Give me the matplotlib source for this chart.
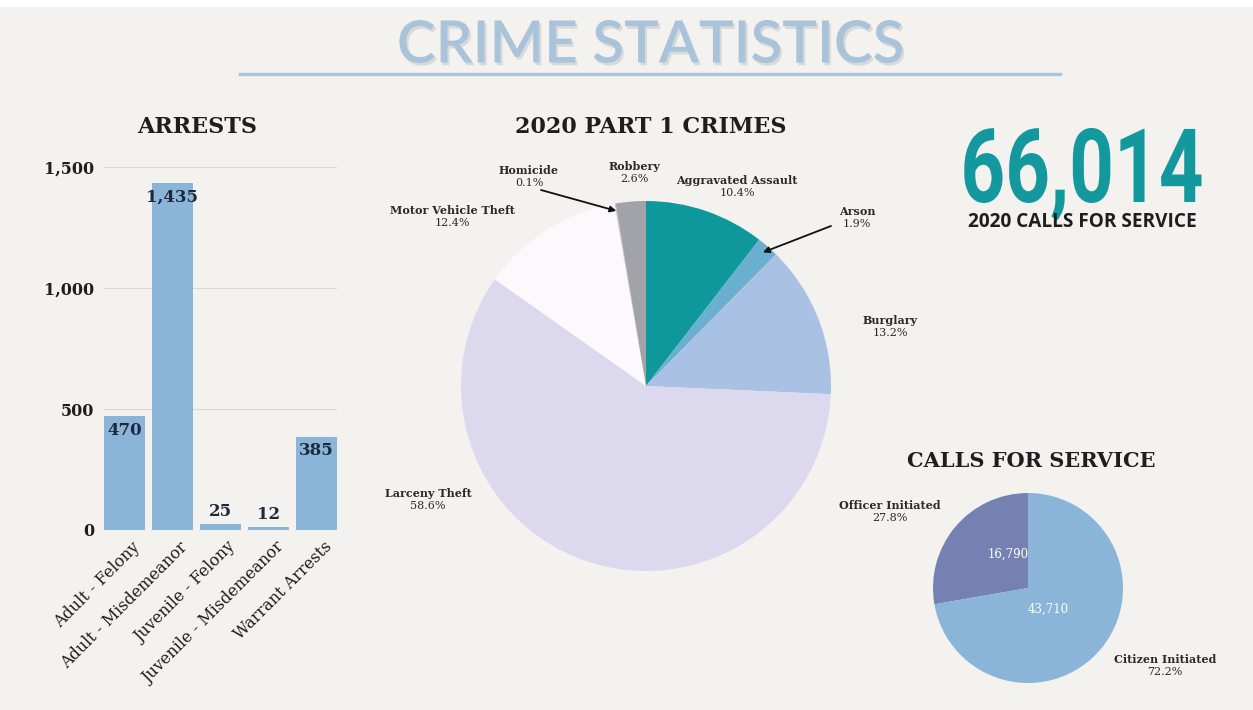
import matplotlib
matplotlib.use('Agg')
import matplotlib.pyplot as plt
import matplotlib.patheffects as pe
from matplotlib.patches import Rectangle
from matplotlib.transforms import Affine2D
import numpy as np

# ---------------- data ----------------
arrest_cats = ['Adult - Felony', 'Adult - Misdemeanor', 'Juvenile - Felony',
               'Juvenile - Misdemeanor', 'Warrant Arrests']
arrest_vals = [470, 1435, 25, 12, 385]
arrest_ticks = [0, 500, 1000, 1500]

crime_labels = ['Aggravated Assault', 'Arson', 'Burglary', 'Larceny Theft',
                'Motor Vehicle Theft', 'Homicide', 'Robbery']
crime_pcts = [10.4, 1.9, 13.2, 58.6, 12.4, 0.1, 2.6]

call_labels = ['Officer Initiated', 'Citizen Initiated']
call_vals = [16790, 43710]

total_calls = 66014

# ---------------- style ----------------
W, H = 1253, 710
BG = '#f4f2ef'
SERIF = ['DejaVu Serif']
crime_colors = ['#0f989c', '#6aafd0', '#a9c1e3', '#dcd9ef', '#fcf8fc', '#c9c9d6', '#a2a3a9']
call_colors = ['#7581b3', '#8ab4d8']
DARK = '#1e1e1e'

fig = plt.figure(figsize=(W / 100, H / 100), dpi=100)
fig.patch.set_facecolor(BG)
fig.add_artist(Rectangle((0, 1 - 6 / H), 1, 6 / H, transform=fig.transFigure,
                         color='white', zorder=0))


def px_axes(x0, y0, x1, y1):
    return fig.add_axes([x0 / W, 1 - y1 / H, (x1 - x0) / W, (y1 - y0) / H])


def fx(px):
    return px / W


def fy(py):
    return 1 - py / H


class HScale(pe.AbstractPathEffect):
    """Horizontally condense text around a pixel x position."""

    def __init__(self, sx, cx):
        super().__init__()
        self.sx, self.cx = sx, cx

    def draw_path(self, renderer, gc, tpath, affine, rgbFace=None):
        a = affine + Affine2D().translate(-self.cx, 0).scale(self.sx, 1).translate(self.cx, 0)
        renderer.draw_path(gc, tpath, a, rgbFace)


# ---------------- title ----------------
fig.text(fx(651), fy(46), 'CRIME STATISTICS', ha='center', va='center',
         fontsize=42, family=['Lato', 'DejaVu Sans'], fontweight='semibold', color='#a8c3da',
         path_effects=[pe.withSimplePatchShadow(offset=(1.5, -2), shadow_rgbFace='#9aa0a8', alpha=0.3)])
fig.add_artist(plt.Line2D([fx(240), fx(1060)], [fy(74), fy(74)], transform=fig.transFigure,
                          color='#a9c4db', lw=2.4))

# ---------------- arrests bar chart ----------------
ax = px_axes(104, 167, 337, 530)
ax.set_facecolor('none')
x = np.arange(len(arrest_vals))
ax.bar(x, arrest_vals, width=0.85, color='#8ab4d8', zorder=2)
ax.set_xlim(-0.425, len(arrest_vals) - 1 + 0.425)
ax.set_ylim(0, 1500)
ax.set_yticks(arrest_ticks)
ax.set_yticklabels([f'{v:,}' for v in arrest_ticks], family=SERIF, fontweight='bold',
                   fontsize=11.5, color=DARK)
ax.set_xticks(x)
ax.set_xticklabels([])
for xi, cat in zip(x, arrest_cats):
    ax.annotate(cat, (xi, 0), xytext=(5, -6), textcoords='offset points', rotation=45,
                ha='right', va='top', rotation_mode='anchor', family=SERIF,
                fontsize=11.5, color=DARK, annotation_clip=False)
ax.tick_params(length=0)
ax.tick_params(axis='y', pad=7)
for s in ax.spines.values():
    s.set_visible(False)
ax.grid(axis='y', color='#dcd9d5', lw=0.8, zorder=0)
ax.set_axisbelow(True)
for xi, v in zip(x, arrest_vals):
    if v > 100:
        ax.annotate(f'{v:,}', (xi, v), xytext=(0, -4), textcoords='offset points',
                    ha='center', va='top', family=SERIF, fontsize=12, fontweight='semibold',
                    color='#1d2a3d', zorder=3)
    else:
        ax.annotate(f'{v:,}', (xi, v), xytext=(0, 3), textcoords='offset points',
                    ha='center', va='bottom', family=SERIF, fontsize=12, fontweight='semibold',
                    color='#1d2a3d', zorder=3)
fig.text(fx(197), fy(127), 'ARRESTS', ha='center', va='center', family=SERIF,
         fontweight='bold', fontsize=16, color=DARK)

# ---------------- part 1 crimes pie ----------------
R1, cx1, cy1 = 185, 646, 386
ax2 = px_axes(cx1 - 290, cy1 - 240, cx1 + 290, cy1 + 220)
wedges, _ = ax2.pie(crime_pcts, colors=crime_colors, startangle=90, counterclock=False,
                    radius=1, wedgeprops=dict(linewidth=0))
ax2.set_xlim(-290 / R1, 290 / R1)
ax2.set_ylim(-220 / R1, 240 / R1)
ax2.set_aspect('auto')
ax2.axis('off')


def d1(px, py):
    return ((px - cx1) / R1, (cy1 - py) / R1)


LFS = 8
crime_label_px = [(737, 186), (857, 217), (890, 326), (428, 499), (452, 216), (529, 176), (634, 172)]
for lab, pct, (px, py) in zip(crime_labels, crime_pcts, crime_label_px):
    tx, ty = d1(px, py)
    ax2.text(tx, ty, lab, ha='center', va='bottom', family=SERIF, fontweight='bold',
             fontsize=LFS, color='#2a2a2a')
    ax2.text(tx, ty - 2 / R1, f'{pct}%', ha='center', va='top', family=SERIF,
             fontsize=LFS, color='#2a2a2a')

arrow_tails = {'Homicide': (541, 190), 'Arson': (831, 226)}
for name, (px, py) in arrow_tails.items():
    w = wedges[crime_labels.index(name)]
    th = np.deg2rad((w.theta1 + w.theta2) / 2)
    head = (0.96 * np.cos(th), 0.96 * np.sin(th))
    ax2.annotate('', xy=head, xytext=d1(px, py),
                 arrowprops=dict(arrowstyle='-|>', color='#111111', lw=1.3,
                                 mutation_scale=9, shrinkA=0, shrinkB=0))

fig.text(fx(651), fy(127), '2020 PART 1 CRIMES', ha='center', va='center', family=SERIF,
         fontweight='bold', fontsize=16, color=DARK)

# ---------------- big number ----------------
fig.text(fx(1082), fy(202), f'{total_calls:,}', ha='center', va='baseline',
         family=['Roboto', 'DejaVu Sans'], fontweight='bold',
         fontsize=74, color='#13999d', path_effects=[HScale(0.76, 1082)])
fig.text(fx(1082), fy(222), '2020 CALLS FOR SERVICE', ha='center', va='center',
         family=['Open Sans', 'DejaVu Sans'], fontweight='bold', fontsize=13.7, color=DARK)

# ---------------- calls for service pie ----------------
R2, cx2, cy2 = 95, 1028, 588
ax3 = px_axes(cx2 - 160, cy2 - 110, cx2 + 160, cy2 + 110)
ax3.pie(call_vals, colors=call_colors, startangle=90, counterclock=True, radius=1,
        wedgeprops=dict(linewidth=0))
ax3.set_xlim(-160 / R2, 160 / R2)
ax3.set_ylim(-110 / R2, 110 / R2)
ax3.set_aspect('auto')
ax3.axis('off')


def d2(px, py):
    return ((px - cx2) / R2, (cy2 - py) / R2)


total = sum(call_vals)
call_label_px = [(890, 511), (1165, 665)]
call_value_px = [(1008, 554), (1048, 609)]
for lab, v, (px, py), (vx, vy) in zip(call_labels, call_vals, call_label_px, call_value_px):
    tx, ty = d2(px, py)
    ax3.text(tx, ty, lab, ha='center', va='bottom', family=SERIF, fontweight='bold',
             fontsize=LFS, color='#2a2a2a', clip_on=False)
    ax3.text(tx, ty - 2 / R2, f'{v / total * 100:.1f}%', ha='center', va='top',
             family=SERIF, fontsize=LFS, color='#2a2a2a', clip_on=False)
    ax3.text(*d2(vx, vy), f'{v:,}', ha='center', va='center', family=SERIF,
             fontsize=8.5, color='white')

fig.text(fx(1031), fy(461), 'CALLS FOR SERVICE', ha='center', va='center', family=SERIF,
         fontweight='bold', fontsize=15, color=DARK)

fig.savefig('out.png', dpi=100, facecolor=BG)
